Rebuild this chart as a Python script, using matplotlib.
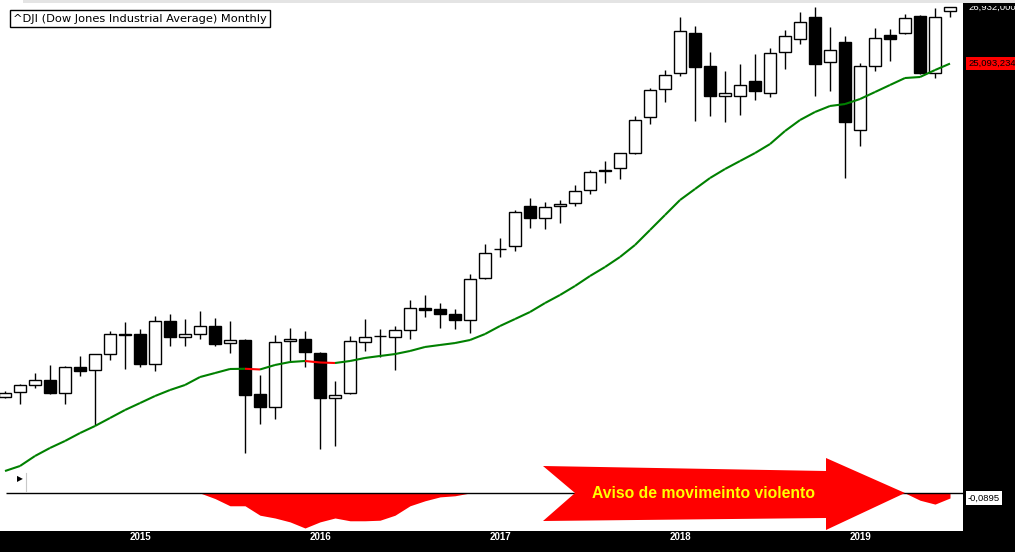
import matplotlib
matplotlib.use("Agg")
import matplotlib.pyplot as plt
import numpy as np
from matplotlib.collections import LineCollection
from matplotlib.lines import Line2D
from matplotlib.patches import Polygon, Rectangle
from matplotlib.transforms import blended_transform_factory

# ^DJI monthly candles, April 2014 .. July 2019
opens = [16541, 16644, 16791, 16896, 16623, 17173, 17108, 17453, 17895, 17895,
         17237, 18189, 17829, 17895, 18076, 17695, 17762, 16602, 16335, 17740,
         17785, 17475, 16520, 16623, 17718, 17860, 17829, 17986, 18487, 18464,
         18348, 18211, 19194, 19910, 19977, 21002, 20688, 21002, 21079, 21425,
         21970, 22023, 22438, 23472, 24309, 24799, 26070, 25018, 24097, 24097,
         24552, 24187, 25458, 25876, 26598, 25142, 25778, 23094, 25018, 26006,
         26070, 26632, 24799, 26797]
highs = [16665, 16811, 17044, 17216, 17194, 17411, 17460, 17963, 18166, 18009,
         18303, 18348, 18234, 18418, 18257, 18189, 17780, 17002, 17874, 18031,
         17963, 17490, 16874, 17852, 18234, 18009, 18076, 18673, 18790, 18602,
         18464, 19289, 20026, 20178, 20897, 21212, 21106, 21159, 21560, 21968,
         22216, 22450, 23502, 24339, 24892, 26598, 26300, 25458, 24861, 25079,
         25394, 25587, 26168, 26764, 26932, 26267, 25973, 25110, 26234, 26201,
         26696, 26665, 26899, 26940]
lows = [16520, 16395, 16728, 16600, 16395, 16981, 15972, 17324, 17130, 17173,
        17087, 17630, 17630, 17785, 17630, 17475, 15422, 15991, 16092, 17280,
        17173, 15500, 15559, 16600, 17520, 17389, 17108, 17785, 18280, 18031,
        18009, 17918, 19180, 19705, 19852, 20431, 20405, 20558, 21002, 21317,
        21613, 21722, 22420, 23266, 23916, 24707, 23355, 23502, 23325, 23531,
        23976, 24067, 24924, 25713, 24097, 24248, 21749, 22637, 24861, 25174,
        26050, 24760, 24645, 26598]
closes = [16623, 16791, 16896, 16623, 17173, 17087, 17453, 17895, 17880, 17237,
          18189, 17829, 17895, 18076, 17673, 17762, 16582, 16335, 17718, 17785,
          17498, 16520, 16582, 17740, 17829, 17845, 17986, 18487, 18450, 18348,
          18211, 19170, 19802, 19890, 20844, 20688, 20975, 21052, 21398, 21913,
          21950, 22438, 23384, 24278, 24738, 26135, 24986, 24097, 24187, 24431,
          24248, 25426, 25973, 26432, 25079, 25522, 23325, 25018, 25908, 25876,
          26565, 24799, 26598, 26932]

# moving average (green, red while falling)
ma = [15079, 15174, 15365, 15520, 15656, 15812, 15952, 16112, 16274, 16416,
      16561, 16686, 16791, 16959, 17044, 17130, 17135, 17120, 17216, 17280,
      17302, 17270, 17259, 17302, 17368, 17411, 17453, 17520, 17608, 17652,
      17695, 17762, 17895, 18076, 18234, 18395, 18602, 18790, 19003, 19242,
      19459, 19705, 20002, 20380, 20766, 21159, 21452, 21749, 21995, 22216,
      22438, 22692, 23065, 23384, 23620, 23798, 23856, 24006, 24217, 24431,
      24645, 24676, 24892, 25093.234]

# lower panel oscillator
warning = [0.0, 0.0, 0.0, 0.0, 0.0, 0.0, 0.0, 0.0, 0.0, 0.0,
           0.0, 0.0, 0.0, 0.0, -0.10, -0.23, -0.23, -0.40, -0.45, -0.52,
           -0.63, -0.52, -0.45, -0.50, -0.50, -0.49, -0.40, -0.23, -0.14, -0.07,
           -0.05, 0.0, 0.0, 0.0, 0.0, 0.0, 0.0, 0.0, 0.0, 0.0,
           0.0, 0.0, 0.0, 0.0, 0.0, 0.0, 0.0, 0.0, 0.0, 0.0,
           0.0, 0.0, 0.0, 0.0, 0.0, 0.0, 0.0, 0.0, 0.0, 0.0,
           0.0, -0.13, -0.20, -0.0895]

year_labels = ["2015", "2016", "2017", "2018", "2019"]
year_index = [9, 21, 33, 45, 57]   # January candles
title = "^DJI (Dow Jones Industrial Average) Monthly"
arrow_text = "Aviso de movimeinto violento"

W, H = 1015, 552


def fx(px):
    return px / W


def fy(py):
    return 1 - py / H


def fmt(v, nd):
    return f"{v:,.{nd}f}".replace(".", ",")


o = np.array(opens, float)
h = np.array(highs, float)
l = np.array(lows, float)
c = np.array(closes, float)
x = np.arange(len(o))
up = c >= o

fig = plt.figure(figsize=(W / 100, H / 100), dpi=100, facecolor="black")
ax = fig.add_axes([0, fy(478), 963 / W, (478 - 3) / H], facecolor="white")
ind = fig.add_axes([0, fy(531), 963 / W, (531 - 478) / H], facecolor="white")

xlim = (-1 / 3, 958 / 15)
for a in (ax, ind):
    a.set_xlim(*xlim)
    for s in a.spines.values():
        s.set_visible(False)

ax.set_yscale("log")
ax.set_ylim(14948, 27068)
ax.tick_params(which="both", left=False, bottom=False, labelleft=False, labelbottom=False)

# candles
ax.vlines(x, l, h, color="black", lw=1.0, zorder=2)
lo = np.minimum(o, c)
hi = np.maximum(o, c)
ax.bar(x[up], (hi - lo)[up], bottom=lo[up], width=0.8,
       facecolor="white", edgecolor="black", lw=1.0, zorder=3)
ax.bar(x[~up], (hi - lo)[~up], bottom=lo[~up], width=0.8,
       facecolor="black", edgecolor="black", lw=1.0, zorder=3)

# moving average
pts = np.column_stack([x, ma])
segs = np.stack([pts[:-1], pts[1:]], axis=1)
seg_cols = ["#ff0000" if ma[i + 1] < ma[i] else "#008000" for i in range(len(ma) - 1)]
ax.add_collection(LineCollection(segs, colors=seg_cols, linewidths=1.5, zorder=4))

# oscillator panel
w = np.array(warning)
ind.set_ylim(-0.684, 0.27)
ind.fill_between(x, np.minimum(w, 0), 0, color="#ff0000", lw=0, zorder=2)
ind.hlines(0, 0.07, xlim[1], color="black", lw=1.0, zorder=3)
ind.set_xticks(year_index, year_labels)
ind.tick_params(axis="x", length=0, pad=1, colors="white", labelsize=7)
ind.tick_params(axis="y", left=False, labelleft=False)
for t in ind.get_xticklabels():
    t.set_fontfamily("Liberation Sans")
    t.set_fontweight("bold")

# right-hand value labels
tr_price = blended_transform_factory(fig.transFigure, ax.transData)
tr_ind = blended_transform_factory(fig.transFigure, ind.transData)
ax.text(fx(968), c[-1], fmt(c[-1], 3), transform=tr_price, color="white",
        fontsize=6.8, family="Liberation Sans", va="center", ha="left", clip_on=False)
ax.text(fx(968), ma[-1], fmt(ma[-1], 3), transform=tr_price, color="black",
        fontsize=6.8, family="Liberation Sans", va="center", ha="left", clip_on=False,
        bbox=dict(boxstyle="square,pad=0.25", fc="#ff0000", ec="none"))
ind.text(fx(968), w[-1], fmt(w[-1], 4), transform=tr_ind, color="black",
         fontsize=6.8, family="Liberation Sans", va="center", ha="left", clip_on=False,
         bbox=dict(boxstyle="square,pad=0.25", fc="white", ec="none"))

# title box
fig.text(fx(13), fy(18.5), title, fontsize=8.2, color="black", va="center", ha="left",
         bbox=dict(boxstyle="square,pad=0.3", fc="white", ec="black", lw=1.0))

# small play icon at the panel corner
fig.text(fx(20), fy(479), "\u25b6", fontsize=5.5, color="black", ha="center", va="center")
fig.add_artist(Line2D([fx(26), fx(26)], [fy(473), fy(491)], color="#c8c8c8", lw=0.8,
                      transform=fig.transFigure))

# warning arrow
arrow_px = [(543, 466), (826, 471), (826, 458), (905, 493), (826, 530),
            (826, 518), (543, 521), (575, 493)]
fig.add_artist(Polygon([(fx(a), fy(b)) for a, b in arrow_px], closed=True,
                       facecolor="#ff0000", edgecolor="none",
                       transform=fig.transFigure, zorder=5))
fig.text(fx(703), fy(493), arrow_text, color="#ffff00", fontsize=11.3,
         family="Liberation Sans", weight="bold", ha="center", va="center", zorder=6)

# toolbar strip on top (last price label is half hidden under it)
fig.add_artist(Rectangle((fx(963), fy(6)), 52 / W, 3 / H, facecolor="black",
                         edgecolor="none", transform=fig.transFigure, zorder=9))
fig.add_artist(Rectangle((0, fy(3)), fx(23), 3 / H, facecolor="white",
                         edgecolor="none", transform=fig.transFigure, zorder=10))
fig.add_artist(Rectangle((fx(23), fy(3)), 1 - fx(23), 3 / H, facecolor="#e4e4e4",
                         edgecolor="none", transform=fig.transFigure, zorder=10))

fig.savefig("out.png", dpi=100, facecolor="black")
